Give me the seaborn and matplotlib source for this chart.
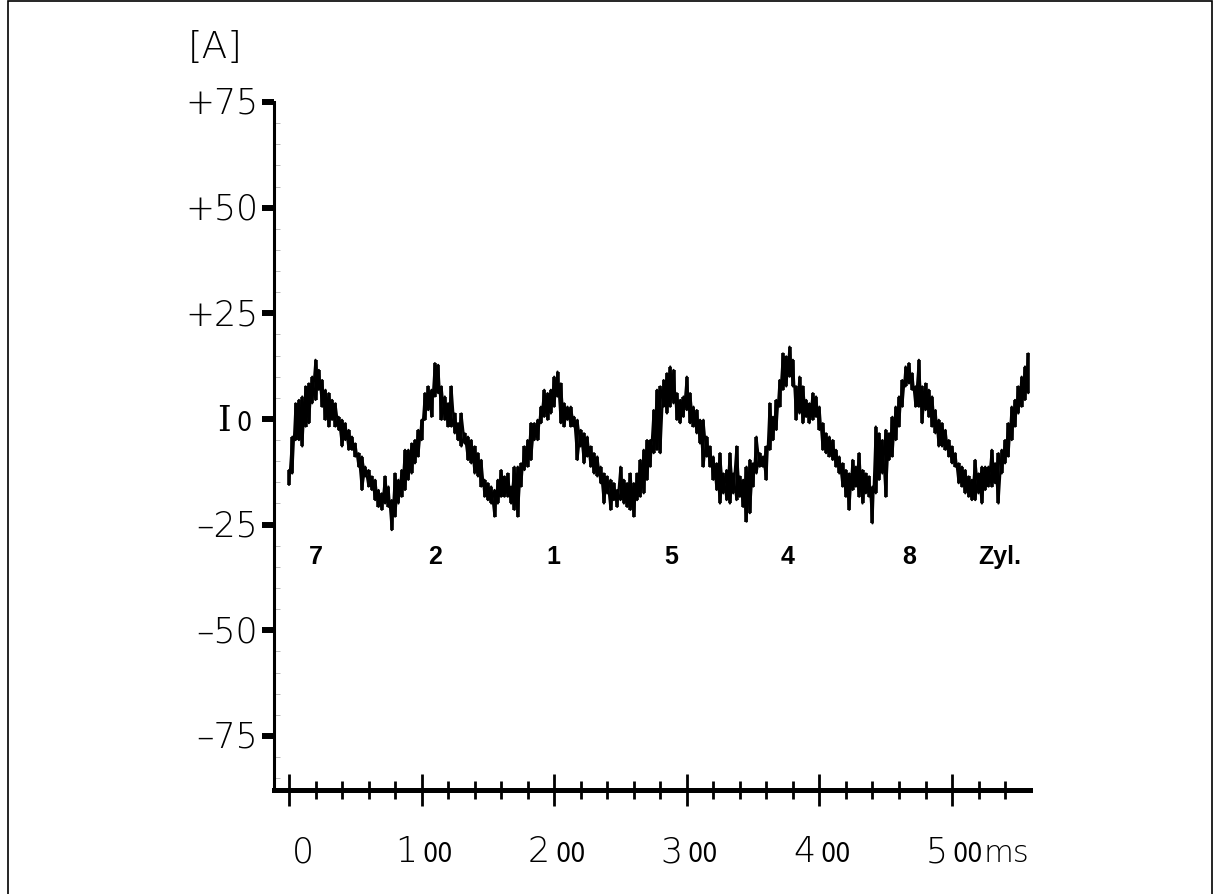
import numpy as np
import pandas as pd
import matplotlib
matplotlib.use("Agg")
import matplotlib.pyplot as plt
import seaborn as sns
from matplotlib.ticker import MultipleLocator
from matplotlib.patches import Rectangle

# ---------------- data ----------------
time_step_ms = 2.5
# upper edge of the noisy trace, one value every 2.5 ms starting at 0 ms
current_upper = [
    -12.1, -4.2, 3.7, 4.5, 5.3, 7.7, 8.4, 10.0, 14.0, 11.6,
    9.2, 6.9, 6.1, 4.5, 3.7, 0.5, -0.2, -1.0, -2.6, -4.2,
    -5.8, -8.1, -8.9, -11.3, -12.1, -13.6, -14.4, -16.8, -17.6, -13.6,
    -16.0, -19.2, -12.9, -14.4, -12.1, -7.3, -7.3, -5.8, -5.0, -2.6,
    -0.2, 6.1, 7.7, 6.9, 13.2, 12.8, 7.7, 5.3, 3.7, 7.7,
    1.3, -1.0, 1.3, -3.4, -4.2, -5.0, -6.5, -8.1, -9.7, -14.4,
    -15.2, -16.0, -16.8, -14.4, -12.1, -13.6, -12.9, -16.0, -11.3, -11.3,
    -10.5, -6.5, -5.0, -1.0, -1.0, -0.2, 2.9, 6.9, 6.1, 6.9,
    10.0, 11.2, 8.4, 3.7, 2.9, 2.9, 0.5, -0.2, -2.6, -3.4,
    -4.2, -6.5, -8.1, -8.9, -11.3, -12.9, -13.6, -14.4, -15.2, -16.8,
    -11.3, -14.4, -15.2, -12.9, -15.2, -12.9, -9.7, -7.3, -5.0, -5.0,
    2.1, 6.9, 7.7, 9.2, 10.8, 12.4, 11.6, 6.1, 4.5, 5.3,
    10.0, 6.1, 2.9, 2.1, -0.2, -0.2, -4.2, -6.5, -8.9, -10.5,
    -8.1, -12.9, -12.1, -8.1, -12.9, -6.5, -13.6, -14.4, -11.3, -9.7,
    -10.5, -4.2, -8.1, -8.9, -6.5, 3.7, 0.5, 4.5, 9.2, 15.5,
    14.8, 17.1, 14.0, 7.7, 10.0, 7.7, 4.5, 3.7, 6.1, 5.3,
    2.9, -1.0, -3.4, -4.2, -5.0, -7.3, -8.9, -10.5, -12.1, -12.9,
    -9.7, -11.3, -8.1, -12.1, -12.9, -13.6, -16.0, -1.8, -3.4, -5.0,
    -2.6, -3.4, 0.5, 2.9, 5.3, 9.2, 12.4, 13.2, 10.8, 7.7,
    14.0, 7.7, 8.4, 6.9, 5.3, 2.1, -0.2, -1.0, -2.6, -5.0,
    -6.5, -8.1, -10.5, -11.3, -12.1, -13.6, -14.4, -9.7, -12.9, -11.3,
    -11.3, -11.3, -7.3, -10.5, -8.1, -7.3, -5.0, -1.0, 2.9, 4.5,
    7.7, 10.0, 12.4, 15.5,
]
# lower edge of the noisy trace at the same instants
current_lower = [
    -15.6, -12.9, -5.0, -5.0, -6.5, -1.8, -1.0, 3.7, 4.5, 6.9,
    2.9, -0.2, -1.8, -0.2, -1.8, -2.6, -6.5, -5.0, -7.3, -7.3,
    -8.9, -11.3, -16.8, -13.6, -16.0, -16.8, -19.2, -20.8, -21.5, -20.0,
    -20.8, -26.3, -23.1, -20.0, -18.4, -16.8, -14.4, -12.9, -10.5, -8.9,
    -5.0, -0.2, 2.1, 0.5, 5.3, 6.1, -0.2, -0.2, -1.8, -1.8,
    -3.4, -5.0, -6.5, -5.8, -9.7, -10.5, -12.9, -13.6, -16.0, -18.4,
    -19.2, -20.0, -23.1, -20.0, -18.4, -18.4, -18.4, -20.0, -21.5, -23.1,
    -16.0, -12.1, -11.3, -9.7, -5.0, -5.0, -1.0, 0.5, -0.2, 1.3,
    2.9, 5.3, -1.0, -1.8, -0.2, -1.8, -1.8, -9.7, -6.5, -10.5,
    -8.9, -11.3, -12.9, -13.6, -15.2, -20.0, -17.6, -21.5, -19.2, -20.8,
    -19.2, -20.0, -20.8, -21.5, -23.1, -19.2, -18.4, -17.6, -14.4, -11.3,
    -8.1, -7.3, -8.1, 2.9, 1.3, 2.9, 3.7, -0.2, -1.0, 0.5,
    2.1, -1.0, -1.8, -3.4, -5.8, -11.3, -8.9, -11.3, -14.4, -16.8,
    -20.0, -17.6, -19.2, -20.0, -17.6, -19.2, -18.4, -20.8, -24.3, -22.3,
    -16.0, -12.9, -11.3, -11.3, -14.4, -7.3, -5.0, -2.6, 2.9, 6.9,
    7.7, 10.0, 7.7, -0.2, 1.3, -1.0, 0.5, -1.0, -0.2, 0.5,
    -2.6, -7.3, -8.1, -8.9, -9.7, -11.3, -12.9, -16.0, -18.4, -21.5,
    -16.8, -16.0, -18.4, -20.0, -17.6, -18.4, -24.7, -17.6, -14.4, -12.9,
    -18.4, -9.7, -8.9, -5.0, -1.8, 2.9, 7.7, 8.4, 6.9, 2.9,
    2.9, -1.0, 2.1, 0.5, -1.8, -3.4, -6.5, -6.5, -7.3, -8.9,
    -10.5, -11.3, -15.2, -16.0, -17.6, -18.4, -19.2, -19.2, -17.6, -20.0,
    -16.8, -16.0, -16.0, -15.2, -20.0, -12.9, -10.5, -8.9, -5.0, -1.8,
    1.3, 2.9, 4.5, 6.1,
]

# firing-order labels (cylinder numbers)
cyl_labels = ["7", "2", "1", "5", "4", "8", "Zyl."]
cyl_pos_ms = [20, 110, 199, 288, 376, 468, 536]
cyl_level = -32.7

# axis ticks and labels
y_ticks = [-75, -50, -25, 0, 25, 50, 75]
y_tick_labels = ["\u201375", "\u201350", "\u201325", "I", "+25", "+50", "+75"]
y_zero_suffix = "0"
x_major = [0, 100, 200, 300, 400, 500]
x_minor = [20, 40, 60, 80, 120, 140, 160, 180, 220, 240, 260, 280,
           320, 340, 360, 380, 420, 440, 460, 480, 520, 540]
x_label_big = ["0", "1", "2", "3", "4", "5"]
x_label_small = ["", "00", "00", "00", "00", "00"]
x_unit = "ms"
y_unit = "[A]"

# ---------------- figure ----------------
sns.set_theme(style="ticks")
plt.rcParams["font.family"] = ["DejaVu Sans"]

W, H = 1215, 894
fig = plt.figure(figsize=(W / 100, H / 100), dpi=100)
fig.patch.set_facecolor("white")
ax = fig.add_axes([274 / W, 104 / H, 756 / W, 688 / H])
ax.set_facecolor("white")

n = len(current_upper)
time_ms = np.arange(n) * time_step_ms
upper = np.array(current_upper)
lower = np.array(current_lower)
even = (np.arange(n) % 2) == 0
df = pd.DataFrame({
    "t": time_ms,
    "zig_a": np.where(even, upper, lower),
    "zig_b": np.where(even, lower, upper),
})
ax.vlines(time_ms, lower, upper, color="black", lw=2.6)
sns.lineplot(data=df, x="t", y="zig_a", sort=False, estimator=None,
             color="black", lw=1.6, ax=ax)
sns.lineplot(data=df, x="t", y="zig_b", sort=False, estimator=None,
             color="black", lw=1.6, ax=ax)

ax.set_xlim(-11.3, 558.8)
ax.set_ylim(-87.8, 75)
ax.set_xlabel("")
ax.set_ylabel("")

for s in ("top", "right"):
    ax.spines[s].set_visible(False)
ax.spines["left"].set_linewidth(2.2)
ax.spines["bottom"].set_linewidth(3.6)
ax.spines["left"].set_color("black")
ax.spines["bottom"].set_color("black")

ax.set_xticks(x_major)
ax.set_xticks(x_minor, minor=True)
ax.set_yticks(y_ticks)
ax.yaxis.set_minor_locator(MultipleLocator(5))
ax.tick_params(axis="x", which="major", direction="inout", length=23, width=2,
               color="black", labelbottom=False, bottom=True)
ax.tick_params(axis="x", which="minor", direction="inout", length=13, width=2,
               color="black", bottom=True)
ax.tick_params(axis="y", which="major", direction="out", length=9, width=4.3,
               color="black", labelleft=False, left=True)
ax.tick_params(axis="y", which="minor", direction="in", length=4, width=0.6,
               color="#b0b0b0", left=True)

tick_font = dict(family="DejaVu Sans", weight="light", size=25, color="black")
small_font = dict(family="DejaVu Sans", weight="light", stretch="condensed",
                  size=19, color="black")

# y tick labels
xt = ax.get_yaxis_transform()
for val, lab in zip(y_ticks, y_tick_labels):
    if val == 0:
        ax.annotate(lab, xy=(0, val), xycoords=xt, xytext=(-31.0, -8.5),
                    textcoords="offset points", ha="right", va="baseline",
                    family="DejaVu Serif", weight="light", size=25,
                    color="black")
        ax.annotate(y_zero_suffix, xy=(0, val), xycoords=xt,
                    xytext=(-27.0, -8.5), textcoords="offset points",
                    ha="left", va="baseline", **small_font)
    else:
        ax.annotate(lab, xy=(0, val), xycoords=xt, xytext=(-11.5, -8.5),
                    textcoords="offset points", ha="right", va="baseline",
                    **tick_font)

# x tick labels (large first digit, small trailing zeros)
xtr = ax.get_xaxis_transform()
for val, big, small in zip(x_major, x_label_big, x_label_small):
    if small == "":
        ax.annotate(big, xy=(val, 0), xycoords=xtr, xytext=(2, -52),
                    textcoords="offset points", ha="left", va="baseline",
                    **tick_font)
    else:
        ax.annotate(big, xy=(val, 0), xycoords=xtr, xytext=(-3, -52),
                    textcoords="offset points", ha="right", va="baseline",
                    **tick_font)
        ax.annotate(small, xy=(val, 0), xycoords=xtr, xytext=(0.5, -52),
                    textcoords="offset points", ha="left", va="baseline",
                    **small_font)
ax.annotate(x_unit, xy=(x_major[-1], 0), xycoords=xtr, xytext=(23.0, -52),
            textcoords="offset points", ha="left", va="baseline",
            family="DejaVu Sans", weight="light", size=22, color="black")

# unit label on y axis
fig.text(215 / W, 1 - 58 / H, y_unit, ha="center", va="baseline",
         family="DejaVu Sans", weight="light", size=27, color="black")

# cylinder labels
for lab, pos in zip(cyl_labels, cyl_pos_ms):
    ax.text(pos, cyl_level, lab, ha="center", va="center",
            family="Liberation Sans", weight="bold", size=18, color="black")

# outer frame
fig.add_artist(Rectangle((8 / W, -0.01), (1212 - 8) / W, 1.01 - 1 / H,
                         transform=fig.transFigure, fill=False,
                         edgecolor="black", lw=1.2))

fig.savefig("out.png", dpi=100, facecolor="white")
